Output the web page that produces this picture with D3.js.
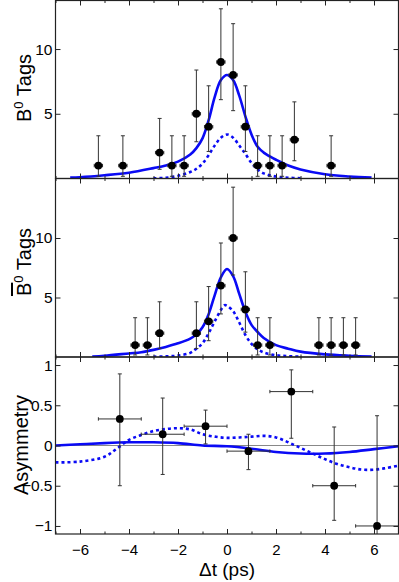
<!DOCTYPE html>
<html><head><meta charset="utf-8">
<script src="https://cdn.jsdelivr.net/npm/d3@7"></script>
<style>
body{margin:0;background:#fff}
svg{display:block}
text{font-family:"Liberation Sans",Arial,Helvetica,sans-serif}
</style>
</head><body>
<svg id="c" width="399" height="582"></svg>
<script>
// ---------- data ----------
const xTicks = [-6,-4,-2,0,2,4,6];
const xMinorTicks = [-7,-5,-3,-1,1,3,5,7];
const countTicks = [5,10];
const asymTicks = [-1,-0.5,0,0.5,1];

// B0 tags
const b0T   = [-5.25,-4.25,-2.75,-2.25,-1.75,-1.25,-0.75,-0.25,0.25,0.75,1.25,1.75,2.25,2.75,4.25];
const b0N   = [1,1,2,1,1,5,4,9,8,4,1,1,1,3,1];
const b0Up  = [2.30,2.30,2.64,2.30,2.30,3.38,3.16,4.11,3.96,3.16,2.30,2.30,2.30,2.92,2.30];
const b0Dn  = [0.83,0.83,1.29,0.83,0.83,2.16,1.91,2.91,2.76,1.91,0.83,0.83,0.83,1.63,0.83];
const countHalfWidth = [0.17];

// B0bar tags
const b0barT  = [-3.75,-3.25,-2.75,-1.25,-0.75,-0.25,0.25,0.75,1.25,1.75,3.75,4.25,4.75,5.25];
const b0barN  = [1,1,2,2,3,6,10,4,1,1,1,1,1,1];
const b0barUp = [2.30,2.30,2.64,2.64,2.92,3.58,4.27,3.16,2.30,2.30,2.30,2.30,2.30,2.30];
const b0barDn = [0.83,0.83,1.29,1.29,1.63,2.38,3.11,1.91,0.83,0.83,0.83,0.83,0.83,0.83];

// fit curves
const b0FitT   = [-6.4,-6,-5,-4,-3,-2.5,-2,-1.5,-1.25,-1,-0.75,-0.5,-0.25,0,0.25,0.5,0.75,1,1.25,1.5,1.75,2,2.5,3,4,5,5.9];
const b0FitY   = [0.07,0.1,0.25,0.45,0.8,1.0,1.3,1.85,2.35,3.1,4.5,6.3,7.6,8.0,7.6,6.4,4.8,3.4,2.45,2.0,1.7,1.45,1.0,0.7,0.33,0.16,0.07];
const b0SigT   = [-3,-2.5,-2,-1.5,-1.25,-1,-0.75,-0.5,-0.25,0,0.25,0.5,0.75,1,1.25,1.5,2,2.5,3];
const b0SigY   = [0.02,0.06,0.2,0.5,0.75,1.15,1.8,2.55,3.15,3.4,3.15,2.55,1.9,1.2,0.7,0.4,0.15,0.06,0.02];
const b0barFitT = [-5.5,-5,-4,-3.5,-3,-2.5,-2,-1.5,-1.25,-1,-0.75,-0.5,-0.25,0,0.25,0.5,0.75,1,1.25,1.5,2,2.5,3,4,5,5.9];
const b0barFitY = [0.03,0.1,0.3,0.4,0.6,0.85,1.15,1.55,1.9,2.5,3.6,5.2,6.7,7.4,6.8,5.3,3.8,2.7,2.1,1.6,1.0,0.7,0.45,0.22,0.1,0.03];
const b0barSigT = [-3,-2.5,-2,-1.5,-1.25,-1,-0.75,-0.5,-0.25,-0.1,0,0.25,0.5,0.75,1,1.25,1.5,2,2.5,3];
const b0barSigY = [0.02,0.06,0.12,0.35,0.7,1.15,2.0,3.0,3.95,4.35,4.3,3.85,2.9,1.85,1.1,0.65,0.38,0.15,0.07,0.03];

// asymmetry
const asymT  = [-4.375,-2.625,-0.875,0.875,2.625,4.375,6.125];
const asymV  = [0.33,0.14,0.24,-0.07,0.67,-0.5,-1.0];
const asymUp = [0.56,0.45,0.20,0.21,0.27,0.73,1.37];
const asymDn = [0.83,0.50,0.22,0.23,0.58,0.43,0.3];
const asymHalfWidth = [0.875];
const asymFitT = [-7,-6,-5,-4,-3,-2,-1,0,1,2,3,4,5,6,7];
const asymFitY = [0,0.015,0.03,0.04,0.04,0.03,0.0,-0.01,-0.04,-0.08,-0.1,-0.1,-0.08,-0.045,-0.01];
const asymSigT = [-7,-6,-5,-4.5,-4,-3.5,-3,-2.5,-2,-1.5,-1,-0.5,0,0.5,1,1.5,2,2.5,3,3.5,4,4.5,5,5.5,6,6.5,7];
const asymSigY = [-0.21,-0.2,-0.14,-0.04,0.07,0.13,0.18,0.205,0.215,0.2,0.14,0.11,0.095,0.1,0.11,0.12,0.1,0.04,-0.03,-0.1,-0.17,-0.23,-0.27,-0.3,-0.3,-0.28,-0.25];

// ---------- drawing ----------
const svg = d3.select("#c");
const L = 55.5, R = 398.5;
const x = d3.scaleLinear().domain([-7,7]).range([L,R]);
const BLUE = "#0a0af5";
const FONT = "Liberation Sans, Arial, sans-serif";

const panels = [
  {id:"p0", top:0.5,  bottom:178.5, domain:[0,13.75], ticks:countTicks, fmt:d3.format("d"),
   t:b0T, v:b0N, up:b0Up, dn:b0Dn, hw:countHalfWidth[0],
   fit:[b0FitT,b0FitY], sig:[b0SigT,b0SigY], label:"B0", labY:88, labX:31},
  {id:"p1", top:178.5, bottom:357, domain:[0,15], ticks:countTicks, fmt:d3.format("d"),
   t:b0barT, v:b0barN, up:b0barUp, dn:b0barDn, hw:countHalfWidth[0],
   fit:[b0barFitT,b0barFitY], sig:[b0barSigT,b0barSigY], label:"B0bar", labY:262, labX:31},
  {id:"p2", top:357, bottom:534, domain:[-1.1,1.1], ticks:asymTicks, fmt:d => d3.format("")(d),
   t:asymT, v:asymV, up:asymUp, dn:asymDn, hw:asymHalfWidth[0],
   fit:[asymFitT,asymFitY], sig:[asymSigT,asymSigY], label:"Asym", labY:445, labX:28}
];

panels.forEach((p, i) => {
  const y = d3.scaleLinear().domain(p.domain).range([p.bottom, p.top]);
  const g = svg.append("g");
  svg.append("clipPath").attr("id","clip"+i).append("rect")
    .attr("x",L).attr("y",p.top).attr("width",R-L).attr("height",p.bottom-p.top);

  if (i === 2) {
    g.append("line").attr("x1",L).attr("x2",R).attr("y1",y(0)).attr("y2",y(0))
      .attr("stroke","#888").attr("stroke-width",1);
  }

  const plot = g.append("g").attr("clip-path","url(#clip"+i+")");
  const line = d3.line().x(d => x(d[0])).y(d => y(d[1])).curve(d3.curveCatmullRom.alpha(0.5));
  plot.append("path").datum(p.sig[0].map((t,k)=>[t,p.sig[1][k]]))
    .attr("d",line).attr("fill","none").attr("stroke",BLUE).attr("stroke-width",2.6)
    .attr("stroke-dasharray","3,3");
  plot.append("path").datum(p.fit[0].map((t,k)=>[t,p.fit[1][k]]))
    .attr("d",line).attr("fill","none").attr("stroke",BLUE).attr("stroke-width",2.6);

  // error bars
  const pts = p.t.map((t,k)=>({t, v:p.v[k], up:p.up[k], dn:p.dn[k]}));
  const eb = plot.append("g").attr("stroke","#333").attr("stroke-width",1).attr("fill","none");
  pts.forEach(d => {
    const cx = x(d.t), cy = y(d.v);
    const yt = y(d.v + d.up), yb = y(d.v - d.dn);
    eb.append("line").attr("x1",cx).attr("x2",cx).attr("y1",yt).attr("y2",yb);
    eb.append("line").attr("x1",cx-2).attr("x2",cx+2).attr("y1",yt).attr("y2",yt);
    eb.append("line").attr("x1",cx-2).attr("x2",cx+2).attr("y1",yb).attr("y2",yb);
    const xl = x(d.t - p.hw), xr = x(d.t + p.hw);
    eb.append("line").attr("x1",xl).attr("x2",xr).attr("y1",cy).attr("y2",cy);
    eb.append("line").attr("x1",xl).attr("x2",xl).attr("y1",cy-1.7).attr("y2",cy+1.7);
    eb.append("line").attr("x1",xr).attr("x2",xr).attr("y1",cy-1.7).attr("y2",cy+1.7);
  });
  plot.selectAll("circle.m").data(pts).join("circle")
    .attr("cx",d=>x(d.t)).attr("cy",d=>y(d.v)).attr("r",3.9).attr("fill","#000");

  // axes (ticks inward)
  const axColor = "#222";
  const styleAxis = sel => { sel.select(".domain").remove(); sel.selectAll("line").attr("stroke",axColor); };
  g.append("g").attr("transform",`translate(0,${p.bottom})`)
    .call(d3.axisBottom(x).tickValues(xTicks).tickSize(-5).tickFormat(i===2 ? d3.format("d") : ""))
    .call(styleAxis)
    .call(s => s.selectAll("text").attr("font-size",15).attr("fill","#000")
      .attr("font-family",FONT).attr("dy","1.2em"));
  g.append("g").attr("transform",`translate(0,${p.bottom})`)
    .call(d3.axisBottom(x).tickValues(xMinorTicks).tickSize(-2.5).tickFormat(""))
    .call(styleAxis);
  g.append("g").attr("transform",`translate(0,${p.top})`)
    .call(d3.axisTop(x).tickValues(xTicks).tickSize(-5).tickFormat(""))
    .call(styleAxis);
  g.append("g").attr("transform",`translate(0,${p.top})`)
    .call(d3.axisTop(x).tickValues(xMinorTicks).tickSize(-2.5).tickFormat(""))
    .call(styleAxis);
  g.append("g").attr("transform",`translate(${L},0)`)
    .call(d3.axisLeft(y).tickValues(p.ticks).tickSize(-5).tickPadding(3).tickFormat(p.fmt))
    .call(styleAxis)
    .call(s => s.selectAll("text").attr("font-size",15.5).attr("fill","#000")
      .attr("font-family",FONT));
  g.append("g").attr("transform",`translate(${R},0)`)
    .call(d3.axisRight(y).tickValues(p.ticks).tickSize(-5).tickFormat(""))
    .call(styleAxis);

  g.append("rect").attr("x",L).attr("y",p.top).attr("width",R-L).attr("height",p.bottom-p.top)
    .attr("fill","none").attr("stroke",axColor).attr("stroke-width",1.2);

  // y label
  const lab = svg.append("text").attr("transform",`translate(${p.labX},${p.labY}) rotate(-90)`)
    .attr("text-anchor","middle").attr("font-size",20).attr("fill","#000");
  if (p.label === "Asym") {
    lab.text("Asymmetry");
  } else {
    const b = lab.append("tspan").text("B");
    if (p.label === "B0bar") b.style("text-decoration","overline");
    lab.append("tspan").attr("dy",-8).attr("font-size",13).text("0");
    lab.append("tspan").attr("dy",8).text(" Tags");
  }
});

svg.append("text").attr("x",x(0)).attr("y",576).attr("text-anchor","middle")
  .attr("font-size",19).attr("fill","#000").text("Δt (ps)");
</script>
</body></html>
